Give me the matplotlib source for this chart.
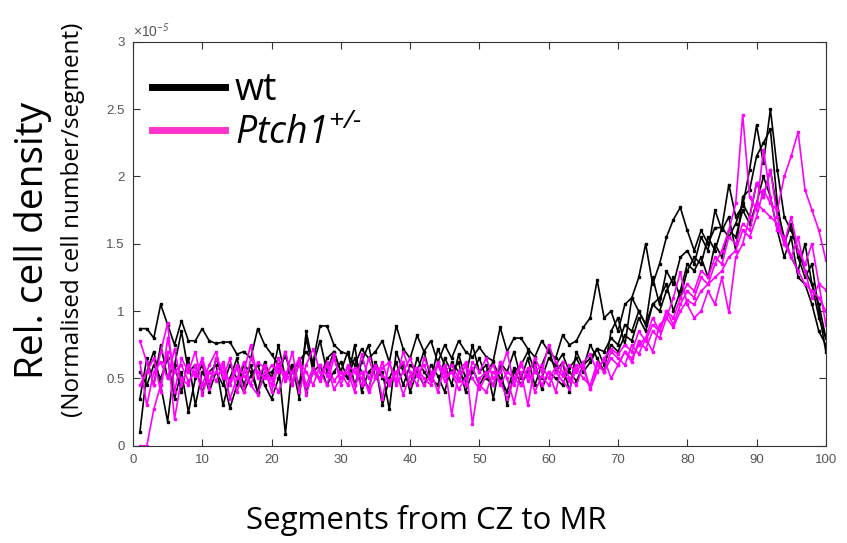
import matplotlib.pyplot as plt
from matplotlib.ticker import FuncFormatter
from matplotlib.lines import Line2D

# segment index
segments = list(range(1, 101))

# relative cell density, units of 1e-5
wt_1 = [0.87, 0.87, 0.80, 1.05, 0.90, 0.75, 0.93, 0.78, 0.78, 0.87,
        0.78, 0.76, 0.77, 0.77, 0.68, 0.70, 0.65, 0.87, 0.75, 0.68,
        0.60, 0.66, 0.55, 0.63, 0.70, 0.62, 0.89, 0.89, 0.75, 0.70,
        0.68, 0.60, 0.72, 0.65, 0.70, 0.78, 0.62, 0.89, 0.72, 0.65,
        0.82, 0.70, 0.78, 0.62, 0.75, 0.65, 0.78, 0.70, 0.66, 0.73,
        0.66, 0.63, 0.88, 0.70, 0.80, 0.80, 0.72, 0.66, 0.78, 0.70,
        0.65, 0.82, 0.75, 0.78, 0.88, 0.95, 1.23, 0.95, 1.00, 0.85,
        1.05, 1.10, 1.25, 1.50, 1.20, 1.35, 1.55, 1.68, 1.77, 1.60,
        1.45, 1.60, 1.50, 1.62, 1.62, 1.94, 1.70, 1.78, 2.05, 2.38,
        2.10, 2.50, 2.05, 1.70, 1.60, 1.45, 1.30, 1.20, 0.95, 0.80]
wt_2 = [0.10, 0.55, 0.70, 0.45, 0.18, 0.60, 0.85, 0.55, 0.60, 0.40,
        0.55, 0.60, 0.30, 0.50, 0.65, 0.45, 0.60, 0.40, 0.52, 0.55,
        0.60, 0.09, 0.60, 0.45, 0.80, 0.55, 0.50, 0.65, 0.70, 0.55,
        0.50, 0.75, 0.40, 0.55, 0.60, 0.30, 0.50, 0.62, 0.45, 0.60,
        0.55, 0.70, 0.50, 0.45, 0.65, 0.55, 0.62, 0.40, 0.55, 0.65,
        0.50, 0.45, 0.60, 0.30, 0.55, 0.60, 0.70, 0.55, 0.50, 0.65,
        0.60, 0.68, 0.55, 0.48, 0.60, 0.65, 0.72, 0.70, 0.80, 0.75,
        0.90, 0.85, 1.00, 0.90, 1.05, 1.10, 1.20, 1.00, 1.15, 1.35,
        1.30, 1.40, 1.25, 1.50, 1.40, 1.60, 1.55, 1.75, 1.65, 1.80,
        2.00, 1.85, 1.60, 1.40, 1.55, 1.25, 1.20, 1.05, 0.85, 0.75]
wt_3 = [0.35, 0.65, 0.45, 0.75, 0.50, 0.60, 0.40, 0.65, 0.30, 0.55,
        0.45, 0.65, 0.50, 0.28, 0.45, 0.60, 0.55, 0.40, 0.62, 0.50,
        0.75, 0.50, 0.60, 0.35, 0.85, 0.60, 0.78, 0.55, 0.70, 0.55,
        0.70, 0.45, 0.62, 0.75, 0.50, 0.55, 0.27, 0.70, 0.55, 0.45,
        0.65, 0.55, 0.48, 0.72, 0.60, 0.45, 0.68, 0.50, 0.75, 0.55,
        0.60, 0.35, 0.62, 0.55, 0.70, 0.50, 0.65, 0.45, 0.60, 0.72,
        0.55, 0.62, 0.40, 0.70, 0.58, 0.75, 0.65, 0.55, 0.85, 0.95,
        0.75, 1.10, 1.00, 0.90, 1.25, 1.05, 1.30, 1.20, 1.40, 1.45,
        1.35, 1.55, 1.45, 1.75, 1.60, 1.70, 1.45, 1.85, 1.90, 2.15,
        2.25, 2.35, 1.80, 1.50, 1.65, 1.40, 1.25, 1.35, 1.00, 0.70]
wt_4 = [0.55, 0.45, 0.60, 0.50, 0.65, 0.35, 0.55, 0.25, 0.50, 0.60,
        0.40, 0.55, 0.45, 0.60, 0.50, 0.40, 0.52, 0.60, 0.45, 0.35,
        0.50, 0.70, 0.45, 0.62, 0.40, 0.55, 0.60, 0.45, 0.55, 0.62,
        0.50, 0.65, 0.55, 0.42, 0.62, 0.50, 0.45, 0.55, 0.60, 0.40,
        0.55, 0.45, 0.60, 0.52, 0.40, 0.62, 0.55, 0.48, 0.58, 0.45,
        0.55, 0.62, 0.50, 0.40, 0.58, 0.45, 0.55, 0.62, 0.42, 0.55,
        0.50, 0.45, 0.58, 0.65, 0.55, 0.62, 0.72, 0.60, 0.75, 0.70,
        0.82, 0.78, 0.95, 0.85, 1.05, 1.00, 1.15, 1.25, 1.10, 1.30,
        1.40, 1.35, 1.55, 1.45, 1.62, 1.55, 1.65, 1.80, 1.70, 1.95,
        1.85, 2.05, 1.75, 1.55, 1.40, 1.30, 1.50, 1.20, 1.05, 0.80]

ptch_1 = [0.78, 0.62, 0.45, 0.70, 0.91, 0.40, 0.65, 0.55, 0.70, 0.45,
          0.60, 0.70, 0.50, 0.65, 0.40, 0.55, 0.75, 0.50, 0.60, 0.45,
          0.65, 0.50, 0.70, 0.40, 0.60, 0.72, 0.55, 0.45, 0.65, 0.50,
          0.55, 0.40, 0.68, 0.50, 0.60, 0.35, 0.62, 0.48, 0.70, 0.55,
          0.45, 0.65, 0.55, 0.40, 0.60, 0.23, 0.55, 0.62, 0.16, 0.50,
          0.55, 0.45, 0.62, 0.50, 0.32, 0.55, 0.30, 0.60, 0.45, 0.55,
          0.40, 0.62, 0.50, 0.45, 0.60, 0.42, 0.55, 0.65, 0.50, 0.60,
          0.70, 0.65, 0.75, 0.80, 0.95, 0.85, 1.00, 0.90, 1.05, 1.15,
          1.10, 1.25, 1.20, 1.35, 1.45, 1.60, 1.80, 2.46, 1.85, 1.75,
          2.20, 1.85, 1.60, 1.55, 1.40, 1.30, 1.20, 1.15, 1.10, 1.00]
ptch_2 = [0.00, 0.00, 0.27, 0.45, 0.70, 0.20, 0.50, 0.45, 0.60, 0.38,
          0.55, 0.48, 0.60, 0.35, 0.50, 0.62, 0.45, 0.38, 0.55, 0.50,
          0.40, 0.55, 0.45, 0.62, 0.38, 0.55, 0.48, 0.60, 0.42, 0.50,
          0.58, 0.45, 0.55, 0.40, 0.50, 0.62, 0.45, 0.55, 0.38, 0.52,
          0.58, 0.45, 0.52, 0.60, 0.48, 0.55, 0.42, 0.50, 0.58, 0.45,
          0.40, 0.55, 0.48, 0.35, 0.50, 0.45, 0.58, 0.40, 0.52, 0.45,
          0.55, 0.48, 0.42, 0.58, 0.50, 0.45, 0.62, 0.55, 0.65, 0.60,
          0.70, 0.62, 0.78, 0.72, 0.85, 0.80, 0.95, 0.88, 1.00, 1.08,
          1.05, 1.15, 1.20, 1.25, 1.30, 1.40, 1.45, 1.60, 1.55, 1.70,
          1.90, 1.80, 1.75, 2.00, 2.15, 2.33, 1.90, 1.75, 1.60, 1.38]
ptch_3 = [0.62, 0.30, 0.55, 0.62, 0.50, 0.72, 0.45, 0.60, 0.52, 0.65,
          0.48, 0.55, 0.62, 0.45, 0.58, 0.40, 0.65, 0.55, 0.50, 0.60,
          0.55, 0.70, 0.48, 0.62, 0.55, 0.45, 0.60, 0.52, 0.68, 0.45,
          0.60, 0.55, 0.45, 0.65, 0.50, 0.58, 0.62, 0.45, 0.55, 0.65,
          0.52, 0.60, 0.48, 0.62, 0.55, 0.60, 0.50, 0.45, 0.62, 0.55,
          0.65, 0.50, 0.55, 0.70, 0.45, 0.60, 0.52, 0.65, 0.55, 0.75,
          0.62, 0.55, 0.48, 0.60, 0.58, 0.42, 0.60, 0.55, 0.70, 0.65,
          0.60, 0.75, 0.68, 0.80, 0.70, 0.90, 0.95, 1.10, 1.29, 1.05,
          0.95, 1.00, 1.15, 1.05, 1.25, 0.99, 1.40, 1.50, 1.70, 1.95,
          1.85, 2.05, 1.70, 1.50, 1.70, 1.45, 1.35, 1.50, 1.20, 1.16]
ptch_4 = [0.45, 0.55, 0.65, 0.40, 0.80, 0.55, 0.60, 0.48, 0.55, 0.62,
          0.42, 0.65, 0.55, 0.48, 0.60, 0.52, 0.45, 0.62, 0.58, 0.40,
          0.60, 0.48, 0.55, 0.65, 0.45, 0.58, 0.50, 0.62, 0.48, 0.55,
          0.45, 0.58, 0.50, 0.42, 0.60, 0.52, 0.48, 0.55, 0.62, 0.45,
          0.58, 0.50, 0.45, 0.60, 0.52, 0.55, 0.48, 0.60, 0.50, 0.42,
          0.52, 0.60, 0.45, 0.55, 0.50, 0.62, 0.48, 0.55, 0.60, 0.50,
          0.58, 0.52, 0.60, 0.55, 0.62, 0.68, 0.55, 0.65, 0.72, 0.68,
          0.75, 0.70, 0.85, 0.78, 0.90, 0.85, 1.00, 0.95, 1.10, 1.20,
          1.15, 1.30, 1.25, 1.40, 1.35, 1.55, 1.50, 1.65, 1.60, 1.80,
          1.75, 1.70, 1.65, 1.50, 1.40, 1.55, 1.30, 1.10, 1.20, 0.90]

wt_lines = [wt_1, wt_2, wt_3, wt_4]
ptch_lines = [ptch_1, ptch_2, ptch_3, ptch_4]

x_ticks = list(range(0, 101, 10))
y_ticks = [0, 0.5, 1, 1.5, 2, 2.5, 3]

plt.rcParams['font.family'] = ['Open Sans', 'DejaVu Sans']
plt.rcParams['mathtext.fontset'] = 'custom'
plt.rcParams['mathtext.rm'] = 'Open Sans:italic'
plt.rcParams['mathtext.it'] = 'Open Sans:italic'

fig = plt.figure(figsize=(8.47, 5.43), dpi=100)
ax = fig.add_axes([0.157, 0.179, 0.818, 0.744])

for ys in wt_lines:
    ax.plot(segments, ys, color='black', lw=1.2, marker='s', ms=2)
for ys in ptch_lines:
    ax.plot(segments, ys, color='#ff00ff', lw=1.2, marker='s', ms=2)

ax.set_xlim(0, 100)
ax.set_ylim(0, 3)
ax.set_xticks(x_ticks)
ax.set_yticks(y_ticks)
ax.yaxis.set_major_formatter(FuncFormatter(lambda v, p: '%g' % v))
ax.tick_params(direction='in', top=True, right=True, length=5, width=0.8,
               labelsize=9.5, labelcolor='#555555', color='#333333', pad=6)
for lab in ax.get_xticklabels() + ax.get_yticklabels():
    lab.set_family('Liberation Sans')
for s in ax.spines.values():
    s.set_color('#333333')
    s.set_linewidth(0.8)

ax.text(0.0, 1.005, '×10$^{-5}$', transform=ax.transAxes,
        fontsize=10, color='#555555', va='bottom', ha='left',
        family='Liberation Sans')

handles = [Line2D([], [], color='black', lw=5),
           Line2D([], [], color='#ff33cc', lw=5)]
labels = ['wt', 'Ptch1$^{+/\\text{-}}$']
leg = ax.legend(handles, labels, loc='upper left', bbox_to_anchor=(0.0, 0.975),
                frameon=False, handlelength=1.95, handletextpad=0.27,
                labelspacing=0.15, borderaxespad=0.3, borderpad=0.2,
                prop={'family': 'Open Sans', 'size': 27})
leg.get_texts()[1].set_style('italic')

fig.text(0.039, 0.558, 'Rel. cell density', rotation=90, fontsize=28,
         ha='center', va='center')
fig.text(0.086, 0.595, '(Normalised cell number/segment)', rotation=90,
         fontsize=17.5, ha='center', va='center')
fig.text(0.503, 0.042, 'Segments from CZ to MR', fontsize=22.4,
         ha='center', va='center')

fig.savefig('out.png', dpi=100)
